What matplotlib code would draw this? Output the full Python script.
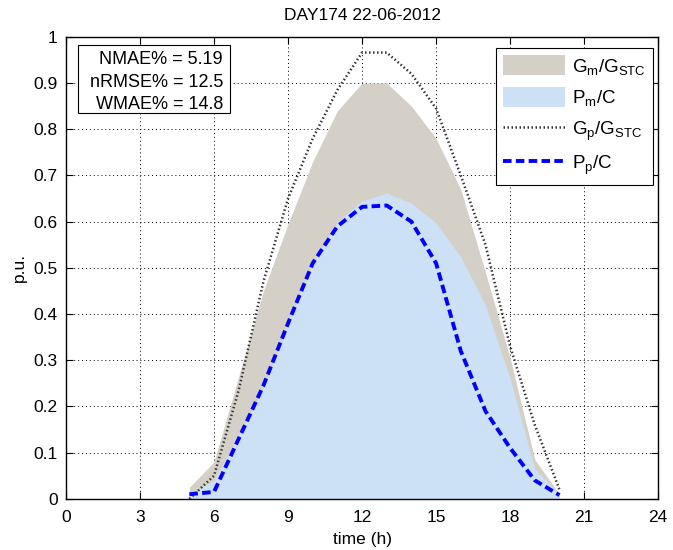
import matplotlib
matplotlib.use("Agg")
import matplotlib.pyplot as plt
from matplotlib.ticker import FormatStrFormatter
from matplotlib.patches import Patch, Rectangle
from matplotlib.lines import Line2D

plt.rcParams['font.family'] = ['Liberation Sans', 'DejaVu Sans']
plt.rcParams['mathtext.default'] = 'regular'

hours = [5, 6, 7, 8, 9, 10, 11, 12, 13, 14, 15, 16, 17, 18, 19, 20]
g_meas = [0.025, 0.08, 0.265, 0.45, 0.595, 0.73, 0.84, 0.90, 0.90, 0.85, 0.78, 0.67, 0.49, 0.305, 0.085, 0.01]
p_meas = [0.01, 0.04, 0.14, 0.24, 0.38, 0.51, 0.60, 0.645, 0.662, 0.64, 0.597, 0.524, 0.42, 0.26, 0.065, 0.01]
g_pred = [0.0, 0.05, 0.235, 0.47, 0.65, 0.78, 0.885, 0.966, 0.966, 0.92, 0.845, 0.70, 0.55, 0.33, 0.16, 0.02]
p_pred = [0.01, 0.015, 0.13, 0.245, 0.38, 0.51, 0.59, 0.632, 0.635, 0.60, 0.51, 0.32, 0.19, 0.11, 0.04, 0.008]

stats_text = "NMAE% = 5.19\nnRMSE% = 12.5\nWMAE% = 14.8"
title = "DAY174 22-06-2012"
labels = ["G$_m$/G$_{STC}$", "P$_m$/C", "G$_p$/G$_{STC}$", "P$_p$/C"]

gray = '#d4d0c8'
lblue = '#cce0f6'
dot_style = dict(color='#333333', lw=1.8, linestyle=(0, (0.6, 1.0)))
dash_style = dict(color='#0000ff', lw=2.8, linestyle=(0, (2.2, 1.1)))

fig = plt.figure(figsize=(6.73, 5.5), dpi=100)
ax = fig.add_axes([0.098, 0.093, 0.88, 0.84])

ax.fill_between(hours, 0, g_meas, color=gray, lw=0)
ax.fill_between(hours, 0, p_meas, color=lblue, lw=0)
ax.plot(hours, g_pred, **dot_style)
ax.plot(hours, p_pred, **dash_style)

ax.set_xlim(0, 24)
ax.set_ylim(0, 1)
ax.set_xticks(range(0, 25, 3))
ax.set_yticks([i / 10 for i in range(11)])
ax.yaxis.set_major_formatter(FormatStrFormatter('%g'))
ax.tick_params(direction='in', top=True, right=True, labelsize=12.5, length=5, pad=6)
ax.tick_params(axis='x', pad=8)
ax.set_axisbelow(True)
ax.grid(True, color='black', linestyle=(0, (1, 3)), lw=0.7)
for s in ax.spines.values():
    s.set_linewidth(1.0)

ax.set_xlabel('time (h)', fontsize=12.5, labelpad=5)
ax.set_ylabel('p.u.', fontsize=12.5, labelpad=5)
ax.set_title(title, fontsize=12.5, pad=12)

# stats box
ax.add_patch(Rectangle((0.0203, 0.8355), 0.2567, 0.1475, transform=ax.transAxes,
                       fc='white', ec='black', lw=0.8, zorder=5))
ax.text(0.2653, 0.902, stats_text, transform=ax.transAxes, ha='right', va='center',
        fontsize=13, linespacing=1.4, zorder=6)

handles = [Patch(facecolor=gray, edgecolor='none'),
           Patch(facecolor=lblue, edgecolor='none'),
           Line2D([], [], **dot_style),
           Line2D([], [], **dash_style)]
leg = ax.legend(handles, labels, loc='upper right', fontsize=13.5, fancybox=False,
                edgecolor='black', framealpha=1, handlelength=3.3, handleheight=1.25,
                handletextpad=0.35, labelspacing=0.55, borderpad=0.4, borderaxespad=0,
                bbox_to_anchor=(0.9916, 0.976))
leg.get_frame().set_linewidth(0.8)

fig.savefig('out.png', dpi=100)
